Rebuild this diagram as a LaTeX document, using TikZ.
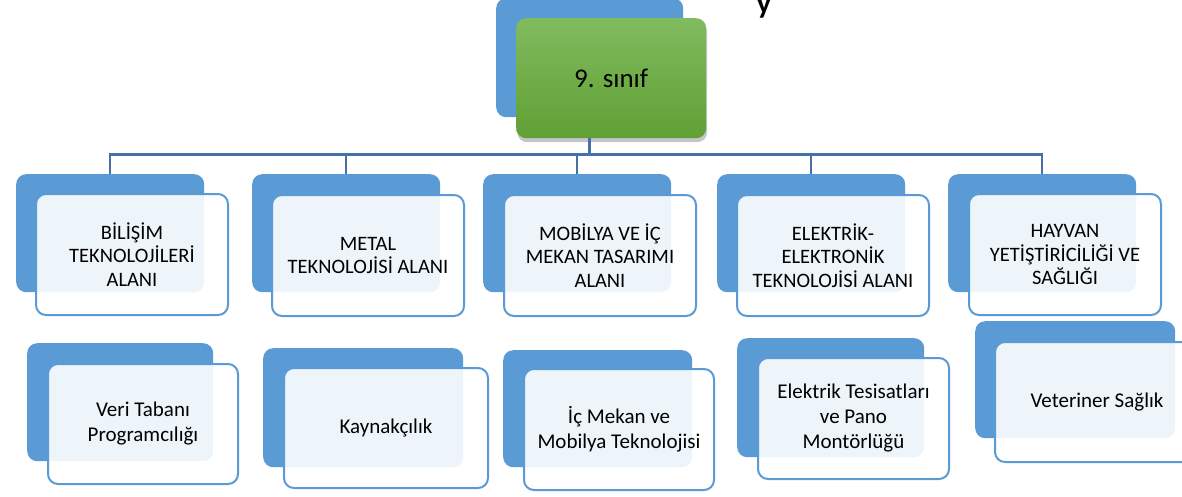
\documentclass[tikz,border=0pt]{standalone}
\usepackage{fontspec}
\setmainfont{Carlito}
\usetikzlibrary{positioning, shadows}

\definecolor{boxblue}{RGB}{91,155,213}
\definecolor{linkblue}{RGB}{68,114,168}
\definecolor{leafgreen}{RGB}{129,187,95}
\definecolor{darkgreen}{RGB}{96,160,52}

\begin{document}
\begin{tikzpicture}[
    x=1pt,
    y=-1pt,
    backcard/.style = {rectangle, rounded corners=10pt, fill=boxblue, minimum width=188pt, minimum height=118pt, anchor=north west},
    frontcard/.style = {rectangle, rounded corners=10pt, draw=boxblue, line width=2pt, fill=white, fill opacity=0.9, text opacity=1, minimum width=192pt, minimum height=121pt, align=center, anchor=north west, font=\fontsize{20.5}{23.5}\selectfont},
    leafcard/.style = {frontcard, minimum width=190pt, minimum height=120pt, font=\fontsize{21}{25}\selectfont},
    link/.style = {draw=linkblue, line width=2.5pt},
]

    \useasboundingbox (0,0) rectangle (1182,496);

    \node[font=\bfseries\fontsize{30}{32}\selectfont, anchor=base] (title) at (764,13) {y};

    \node[backcard, minimum width=187pt, minimum height=119pt] (rootback) at (496,-2) {};
    \node[rectangle, rounded corners=10pt, top color=leafgreen, bottom color=darkgreen, minimum width=190pt, minimum height=120pt, anchor=north west,
          drop shadow={opacity=0.45, shadow xshift=1pt, shadow yshift=-4pt}, font=\fontsize{27}{32}\selectfont] (root) at (516,18) {9. sınıf};

    \node[backcard]  (a1) at (16,174) {};
    \node[frontcard] (f1) at ([shift={(19,19)}]a1.north west) {BİLİŞİM\\TEKNOLOJİLERİ\\ALANI};
    \node[backcard]  (a2) at (252,174) {};
    \node[frontcard] (f2) at ([shift={(19,20)}]a2.north west) {METAL\\TEKNOLOJİSİ ALANI};
    \node[backcard]  (a3) at (483,174) {};
    \node[frontcard] (f3) at ([shift={(20,20)}]a3.north west) {MOBİLYA VE İÇ\\MEKAN TASARIMI\\ALANI};
    \node[backcard]  (a4) at (717,174) {};
    \node[frontcard] (f4) at ([shift={(19,20)}]a4.north west) {ELEKTRİK-\\ELEKTRONİK\\TEKNOLOJİSİ ALANI};
    \node[backcard]  (a5) at (948,174) {};
    \node[frontcard] (f5) at ([shift={(20,19)}]a5.north west) {HAYVAN\\YETİŞTİRİCİLİĞİ VE\\SAĞLIĞI};

    \node[backcard, minimum width=186pt] (b1) at (27,343) {};
    \node[leafcard] (g1) at ([shift={(20,20)}]b1.north west) {Veri Tabanı\\Programcılığı};
    \node[backcard, minimum width=200pt, minimum height=119pt] (b2) at (263,348) {};
    \node[leafcard, minimum width=204pt] (g2) at ([shift={(20,19)}]b2.north west) {Kaynakçılık};
    \node[backcard, minimum width=189pt, minimum height=117pt] (b3) at (503,350) {};
    \node[leafcard, minimum height=121pt] (g3) at ([shift={(20,18)}]b3.north west) {İç Mekan ve\\Mobilya Teknolojisi};
    \node[backcard, minimum width=187pt, minimum height=119pt] (b4) at (737,338) {};
    \node[leafcard, minimum width=191pt, minimum height=121pt] (g4) at ([shift={(20,19)}]b4.north west) {Elektrik Tesisatları\\ve Pano\\Montörlüğü};
    \node[backcard, minimum width=200pt, minimum height=117pt] (b5) at (975,321) {};
    \node[leafcard, minimum width=204pt] (g5) at ([shift={(19,20)}]b5.north west) {Veteriner Sağlık};

    \draw[link] (rootback.south |- root.south) -- ++(0,16) coordinate (bus);
    \draw[link] (bus) -| (a1.north);
    \draw[link] (bus) -| (a2.north);
    \draw[link] (bus) -| (a3.north);
    \draw[link] (bus) -| (a4.north);
    \draw[link] (bus) -| (a5.north);
\end{tikzpicture}
\end{document}
